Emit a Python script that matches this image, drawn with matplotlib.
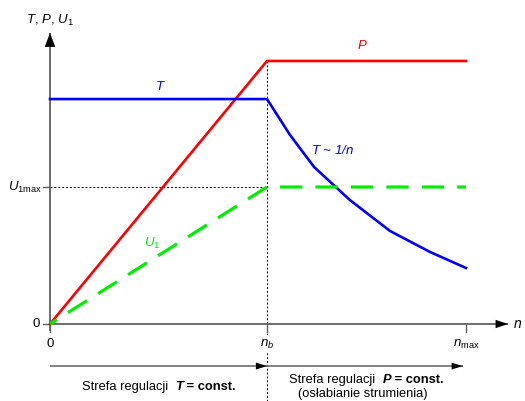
"""Speed-control characteristics of a motor: torque T, power P and voltage U1
versus speed n, with the constant-torque and constant-power zones."""

import matplotlib

matplotlib.use("Agg")
import matplotlib.pyplot as plt

plt.rcParams["font.family"] = ["Liberation Sans", "DejaVu Sans"]
plt.rcParams["mathtext.fontset"] = "custom"
plt.rcParams["mathtext.rm"] = "Liberation Sans"
plt.rcParams["mathtext.it"] = "Liberation Sans:italic"
plt.rcParams["mathtext.bf"] = "Liberation Sans:bold"

# Speed in units of the base speed n_b
n_b = 1.0
n_max = 1.917

# Power: rises linearly up to n_b, then constant
p_n = [0.0, n_b, n_max]
p_val = [0.0, 1.92, 1.92]

# Torque: constant up to n_b, then falls roughly as 1/n
t_n = [0.0, 1.0, 1.106, 1.217, 1.382, 1.567, 1.751, 1.917]
t_val = [1.642, 1.642, 1.380, 1.146, 0.905, 0.679, 0.526, 0.409]

# Supply voltage: rises up to U1max at n_b, then held
u_n = [0.0, n_b, n_max]
u_val = [0.0, 1.0, 1.0]
u1_max = 1.0

RED = "#ff0000"
BLUE = "#0000ff"
GREEN = "#00ee00"
AXIS = "#606060"

fig = plt.figure(figsize=(5.25, 4.01), dpi=100)
ax = fig.add_axes([0, 0, 1, 1])
ax.set_xlim(-0.2304, 2.189)
ax.set_ylim(-0.562, 2.365)
ax.axis("off")


def arrow(ax, start, tip, color, lw, head_len, head_w):
    ax.plot([start[0], tip[0]], [start[1], tip[1]], color=color, lw=lw,
            solid_capstyle="butt", zorder=2)
    ax.annotate("", xy=tip, xytext=start,
                arrowprops=dict(arrowstyle=f"-|>,head_length={head_len},head_width={head_w}",
                                color="black", lw=0, shrinkA=0, shrinkB=0),
                zorder=3)


# axes with arrowheads
arrow(ax, (0, -0.05), (0, 2.124), AXIS, 1.3, 1.0, 0.38)
arrow(ax, (0, 0), (2.111, 0), AXIS, 1.3, 0.9, 0.3)

# ticks
for x in [0, n_b, n_max]:
    ax.plot([x, x], [0, -0.055], color=AXIS, lw=1.0)
for y in [0, u1_max]:
    ax.plot([-0.032, 0], [y, y], color=AXIS, lw=1.0)

# guide lines
ax.plot([n_b, n_b], [p_val[1], -0.562], color="black", lw=0.7,
        linestyle=(0, (2, 2)), zorder=1)
ax.plot([0, n_b], [u1_max, u1_max], color="black", lw=0.7,
        linestyle=(0, (2, 2)), zorder=1)

# characteristics
ax.plot(p_n, p_val, color=RED, lw=1.9, zorder=4)
ax.plot(t_n, t_val, color=BLUE, lw=1.9, zorder=4)
ax.plot(u_n, u_val, color=GREEN, lw=2.3, linestyle=(4.4, (7.0, 4.1)), zorder=4)

fs = 9.3
lfs = 9.5
# axis labels
ax.text(0, 2.219, "$T$, $P$, $U_1$", ha="center", va="center", fontsize=lfs)
ax.text(2.134, 0.0, "$n$", ha="left", va="center", fontsize=lfs + 0.5)
ax.text(0, -0.146, "0", ha="center", va="center", fontsize=lfs)
ax.text(n_b, -0.146, "$n_b$", ha="center", va="center", fontsize=lfs,
        bbox=dict(facecolor="white", edgecolor="none", pad=1.5), zorder=5)
ax.text(n_max, -0.146, r"$n_{\mathrm{max}}$", ha="center", va="center", fontsize=lfs)
ax.text(-0.045, 0, "0", ha="right", va="center", fontsize=lfs)
ax.text(-0.035, u1_max, r"$U_{\mathrm{1max}}$", ha="right", va="center", fontsize=lfs)

# curve labels
ax.text(1.438, 2.03, "$P$", color=RED, ha="center", va="center", fontsize=lfs)
ax.text(0.507, 1.73, "$T$", color=BLUE, ha="center", va="center", fontsize=lfs)
ax.text(1.205, 1.27, "$T$ ~ 1/$n$", color=BLUE, ha="left", va="center",
        fontsize=lfs, style="italic")
ax.text(0.47, 0.59, "$U_1$", color=GREEN, ha="center", va="center", fontsize=lfs)

# control zones
zone_y = -0.307
arrow(ax, (0, zone_y), (n_b, zone_y), AXIS, 1.1, 0.8, 0.25)
arrow(ax, (n_b, zone_y), (n_max - 0.015, zone_y), AXIS, 1.1, 0.8, 0.25)

left = ax.text(0.148, -0.50, "Strefa regulacji  ", ha="left", va="bottom", fontsize=fs)
sym = ax.annotate("T", xycoords=left, xy=(1, 0), va="bottom", fontsize=fs,
                  fontweight="bold", style="italic")
ax.annotate(" = const.", xycoords=sym, xy=(1, 0), va="bottom", fontsize=fs,
            fontweight="bold")

right = ax.text(1.101, -0.449, "Strefa regulacji  ", ha="left", va="bottom", fontsize=fs)
sym = ax.annotate("P", xycoords=right, xy=(1, 0), va="bottom", fontsize=fs,
                  fontweight="bold", style="italic")
ax.annotate(" = const.", xycoords=sym, xy=(1, 0), va="bottom", fontsize=fs,
            fontweight="bold")
ax.text(1.44, -0.51, "(osłabianie strumienia)", ha="center", va="center", fontsize=fs)

fig.savefig("out.png", dpi=100)
